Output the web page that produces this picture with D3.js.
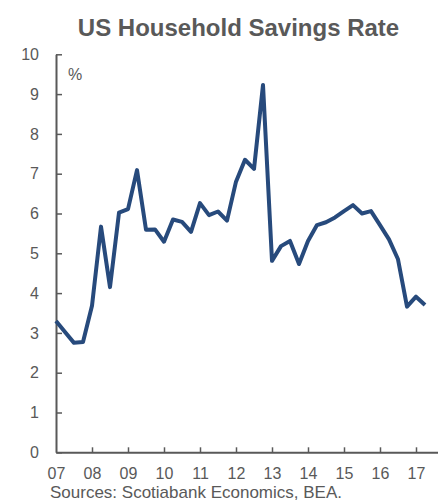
<!DOCTYPE html>
<html>
<head>
<meta charset="utf-8">
<script src="https://cdn.jsdelivr.net/npm/d3@7"></script>
<style>
  html, body { margin: 0; padding: 0; background: #ffffff; }
  svg { display: block; font-family: "Liberation Sans", Arial, sans-serif; }
</style>
</head>
<body>
<svg id="chart" width="438" height="502"></svg>
<script>
// Quarterly personal savings rate, % of disposable income, 2007Q1 onward
const startYear = 2007;
const savingsRate = [
  3.3, 3.02, 2.75, 2.77, 3.68, 5.67, 4.15, 6.02, 6.11, 7.09,
  5.59, 5.6, 5.29, 5.85, 5.79, 5.54, 6.26, 5.96, 6.05, 5.82,
  6.8, 7.35, 7.12, 9.23, 4.81, 5.18, 5.31, 4.73, 5.31, 5.71,
  5.78, 5.9, 6.06, 6.21, 6.0, 6.06, 5.71, 5.35, 4.85, 3.66,
  3.91, 3.7
];
const yTicks = [0, 1, 2, 3, 4, 5, 6, 7, 8, 9, 10];
const xTickYears = [2007, 2008, 2009, 2010, 2011, 2012, 2013, 2014, 2015, 2016, 2017];
const xTickLabels = ["07", "08", "09", "10", "11", "12", "13", "14", "15", "16", "17"];

const grey = "#595959";
const lineBlue = "#274a7c";

const svg = d3.select("#chart");

const x = d3.scaleLinear().domain([2007, 2017.6]).range([56, 437.6]);
const y = d3.scaleLinear().domain([0, 10]).range([452.3, 54.3]);

// Title
svg.append("text")
  .attr("x", 238.5).attr("y", 36)
  .attr("text-anchor", "middle")
  .attr("font-size", 24).attr("font-weight", "bold")
  .attr("fill", grey)
  .text("US Household Savings Rate");

// Y axis (ticks point into the plot)
const yAxis = svg.append("g")
  .attr("transform", `translate(${x(2007)},0)`)
  .call(d3.axisLeft(y).tickValues(yTicks).tickFormat(d3.format("d"))
    .tickSizeInner(-6).tickSizeOuter(0).tickPadding(17));

// X axis (ticks point up)
const xAxis = svg.append("g")
  .attr("transform", `translate(0,${y(0)})`)
  .call(d3.axisBottom(x).tickValues(xTickYears)
    .tickFormat((d, i) => xTickLabels[i])
    .tickSizeInner(-5).tickSizeOuter(0).tickPadding(15.8));

[yAxis, xAxis].forEach(g => {
  g.select(".domain").attr("stroke", grey).attr("stroke-width", 2);
  g.selectAll(".tick line").attr("stroke", grey).attr("stroke-width", 1.5);
  g.selectAll(".tick text")
    .attr("fill", grey)
    .attr("font-size", 16)
    .attr("font-family", "'Liberation Sans', Arial, sans-serif");
});
xAxis.select(".tick line").remove();

// Unit label
svg.append("text")
  .attr("x", 68).attr("y", 80)
  .attr("font-size", 16).attr("fill", grey)
  .text("%");

// Savings rate line
const line = d3.line()
  .x((d, i) => x(startYear + i / 4))
  .y(d => y(d));

svg.append("path")
  .datum(savingsRate)
  .attr("fill", "none")
  .attr("stroke", lineBlue)
  .attr("stroke-width", 4)
  .attr("stroke-linejoin", "round")
  .attr("stroke-linecap", "butt")
  .attr("d", line);

// Source note
svg.append("text")
  .attr("x", 50).attr("y", 498.3)
  .attr("font-size", 17).attr("fill", grey)
  .text("Sources: Scotiabank Economics, BEA.");
</script>
</body>
</html>
